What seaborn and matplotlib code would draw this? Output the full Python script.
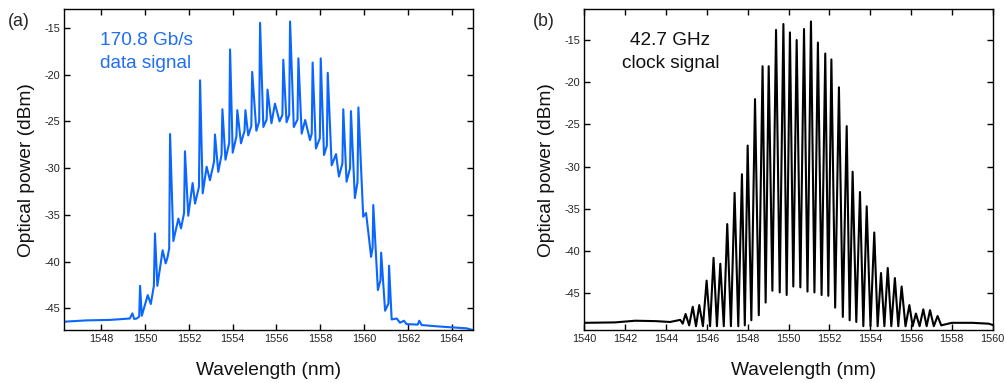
import numpy as np
import pandas as pd
import matplotlib
matplotlib.use("Agg")
import matplotlib.pyplot as plt
import seaborn as sns

# ---------------- data ----------------
# (a) 170.8 Gb/s data signal: spectrum vertices (wavelength nm, power dBm)
data_wl = [1546.31, 1547.33, 1548.40, 1549.00, 1549.30, 1549.42, 1549.50, 1549.62,
           1549.73, 1549.77, 1549.85, 1550.12, 1550.26, 1550.40, 1550.45, 1550.56,
           1550.80, 1550.94, 1551.02, 1551.10, 1551.14, 1551.29, 1551.52, 1551.64,
           1551.78, 1551.82, 1551.97, 1552.17, 1552.28, 1552.46, 1552.51, 1552.63,
           1552.81, 1552.96, 1553.15, 1553.19, 1553.34, 1553.49, 1553.53, 1553.67,
           1553.84, 1553.88, 1554.00, 1554.17, 1554.21, 1554.38, 1554.54, 1554.58,
           1554.71, 1554.85, 1554.89, 1555.08, 1555.21, 1555.25, 1555.40, 1555.55,
           1555.59, 1555.77, 1555.93, 1556.14, 1556.27, 1556.31, 1556.46, 1556.58,
           1556.62, 1556.79, 1556.96, 1557.00, 1557.15, 1557.31, 1557.53, 1557.61,
           1557.65, 1557.80, 1557.98, 1558.02, 1558.17, 1558.30, 1558.34, 1558.52,
           1558.72, 1558.85, 1559.01, 1559.05, 1559.20, 1559.36, 1559.40, 1559.58,
           1559.70, 1559.74, 1559.96, 1560.09, 1560.20, 1560.32, 1560.39, 1560.42,
           1560.63, 1560.75, 1560.78, 1560.96, 1561.11, 1561.14, 1561.26, 1561.49,
           1561.64, 1561.82, 1561.94, 1562.45, 1562.52, 1562.63, 1563.40, 1564.68,
           1564.96]
data_db = [-46.44, -46.30, -46.25, -46.15, -46.10, -45.55, -46.15, -46.10,
           -45.9, -42.6, -45.8, -43.6, -44.55, -42.6, -37.0, -42.6,
           -38.8, -40.2, -39.6, -38.6, -26.35, -37.8, -35.4, -36.45,
           -34.8, -28.2, -35.1, -31.6, -33.8, -32.0, -20.6, -32.7,
           -29.85, -31.3, -29.3, -26.4, -30.4, -28.6, -23.7, -29.1,
           -27.3, -17.3, -28.35, -26.6, -23.8, -27.35, -26.0, -23.8,
           -26.5, -25.5, -19.7, -26.0, -25.0, -14.45, -25.6, -24.8,
           -21.6, -25.2, -23.1, -25.0, -24.3, -18.4, -25.1, -24.3,
           -14.3, -25.6, -24.8, -18.25, -26.3, -24.85, -27.0, -26.3,
           -18.7, -27.9, -26.8, -18.25, -28.6, -27.6, -19.8, -29.7,
           -28.5, -30.9, -29.5, -23.7, -31.45, -30.0, -23.9, -33.2,
           -31.5, -23.5, -35.2, -34.8, -37.0, -39.5, -38.5, -33.95,
           -43.05, -42.0, -39.05, -45.27, -44.5, -40.45, -46.2, -46.1,
           -46.55, -46.34, -46.7, -46.75, -46.34, -46.8, -46.95, -47.15,
           -47.33]

# (b) 42.7 GHz clock signal: comb lines
clock_peak_wl = [1544.96, 1545.31, 1545.63, 1545.99, 1546.33, 1546.66, 1547.00, 1547.36,
                 1547.72, 1548.00, 1548.36, 1548.73, 1549.03, 1549.39, 1549.75, 1550.07,
                 1550.40, 1550.76, 1551.10, 1551.44, 1551.80, 1552.10, 1552.47, 1552.85,
                 1553.14, 1553.50, 1553.83, 1554.20, 1554.53, 1554.86, 1555.21, 1555.54,
                 1555.92, 1556.24, 1556.60, 1556.93, 1557.30]
clock_peak_db = [-47.45, -46.6, -46.4, -43.5, -40.8, -41.5, -36.8, -33.1,
                 -30.9, -27.5, -22.0, -18.1, -18.1, -13.8, -13.1, -14.1,
                 -15.0, -13.7, -12.8, -15.3, -16.6, -17.3, -20.6, -25.2,
                 -30.6, -33.0, -34.7, -37.8, -42.6, -42.0, -43.2, -44.2,
                 -46.4, -47.4, -46.9, -47.0, -47.7]
clock_trough_db = [-48.8, -48.9, -48.9, -48.9, -48.9, -48.9, -48.9, -48.9,
                   -48.8, -48.2, -47.6, -46.1, -44.7, -44.9, -45.2, -44.2,
                   -44.3, -44.8, -44.9, -45.2, -45.3, -46.7, -47.8, -48.2,
                   -48.4, -48.9, -48.9, -48.9, -48.9, -48.9, -48.9, -48.9,
                   -48.9, -48.9, -48.9, -48.9]
clock_base_left_wl = [1540.0, 1541.5, 1542.5, 1543.5, 1544.2, 1544.7, 1544.82]
clock_base_left_db = [-48.5, -48.45, -48.25, -48.3, -48.4, -48.15, -48.6]
clock_base_right_wl = [1557.48, 1558.0, 1559.0, 1559.8, 1560.0]
clock_base_right_db = [-48.8, -48.5, -48.5, -48.6, -48.75]

x_ticks_a = [1548, 1550, 1552, 1554, 1556, 1558, 1560, 1562, 1564]
x_ticks_b = [1540, 1542, 1544, 1546, 1548, 1550, 1552, 1554, 1556, 1558, 1560]
y_ticks = [-45, -40, -35, -30, -25, -20, -15]

# ---------------- build tables ----------------
df_a = pd.DataFrame({"wl": data_wl, "db": data_db})

cw, cd = list(clock_base_left_wl), list(clock_base_left_db)
for i, (pw, pd_) in enumerate(zip(clock_peak_wl, clock_peak_db)):
    cw.append(pw); cd.append(pd_)
    if i < len(clock_trough_db):
        cw.append((pw + clock_peak_wl[i + 1]) / 2.0); cd.append(clock_trough_db[i])
cw += clock_base_right_wl; cd += clock_base_right_db
df_b = pd.DataFrame({"wl": cw, "db": cd})

# ---------------- style ----------------
sns.set_theme(style="ticks")
plt.rcParams["font.family"] = ["Liberation Sans", "DejaVu Sans"]
plt.rcParams["axes.linewidth"] = 1.0
plt.rcParams["axes.unicode_minus"] = False

W, H = 1005, 383
fig = plt.figure(figsize=(W / 100, H / 100), dpi=100)
ax1 = fig.add_axes([64.3 / W, 53 / H, 408.4 / W, 320.7 / H])
ax2 = fig.add_axes([584.3 / W, 53 / H, 408.4 / W, 320.7 / H])

sns.lineplot(data=df_a, x="wl", y="db", ax=ax1, color="#0a66ff", lw=1.5,
             sort=False, estimator=None)
sns.lineplot(data=df_b, x="wl", y="db", ax=ax2, color="black", lw=1.5,
             sort=False, estimator=None)

ax1.set_xlim(1546.31, 1564.96)
ax1.set_ylim(-47.33, -13.0)
ax2.set_xlim(1540, 1560)
ax2.set_ylim(-49.35, -11.36)
ax1.set_xticks(x_ticks_a)
ax2.set_xticks(x_ticks_b)
for ax in (ax1, ax2):
    ax.set_yticks(y_ticks)
    ax.tick_params(direction="in", length=4, width=1.0, top=True, right=True,
                   labelsize=7.8, labelcolor="#222222", pad=3, color="black")
    ax.set_xlabel("Wavelength (nm)", fontsize=13.8, color="#111111")
    ax.set_ylabel("Optical power (dBm)", fontsize=13.8, labelpad=7, color="#111111")
    for s in ax.spines.values():
        s.set_color("black")
        s.set_linewidth(1.0)
ax1.xaxis.set_label_coords(0.5, -0.10)
ax2.xaxis.set_label_coords(0.538, -0.10)

fig.text(8 / W, 1 - 26 / H, "(a)", fontsize=12.8, va="baseline", ha="left")
fig.text(533 / W, 1 - 26.5 / H, "(b)", fontsize=12.8, va="baseline", ha="left")
fig.text(100 / W, 1 - 45 / H, "170.8 Gb/s", fontsize=13.7, va="baseline",
         ha="left", color="#1f6ff0")
fig.text(100 / W, 1 - 67.7 / H, "data signal", fontsize=13.7, va="baseline",
         ha="left", color="#1f6ff0")
fig.text(670.3 / W, 1 - 45 / H, "42.7 GHz", fontsize=13.7, va="baseline",
         ha="center", color="#111111")
fig.text(670.3 / W, 1 - 67.7 / H, "clock signal", fontsize=13.7, va="baseline",
         ha="center", color="#111111")

fig.savefig("out.png", dpi=100)
